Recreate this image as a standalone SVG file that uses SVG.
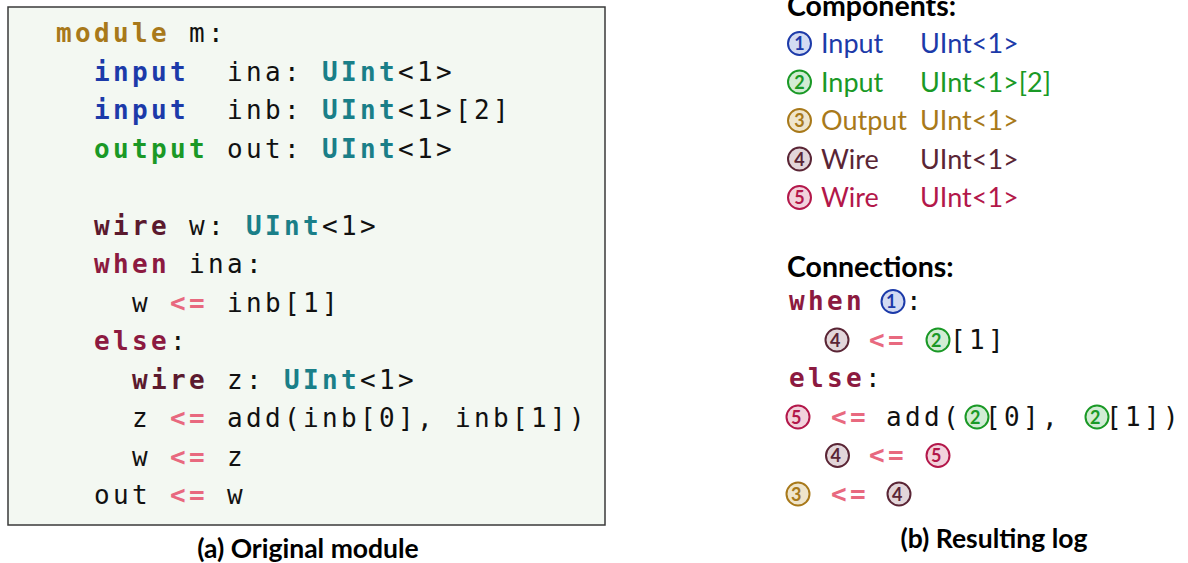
<svg xmlns="http://www.w3.org/2000/svg" width="1188" height="563" viewBox="0 0 1188 563">
  <style>
    .code { font-family: "DejaVu Sans Mono", "Liberation Mono", monospace; font-size: 26px; letter-spacing: 3.35px; fill: #111; white-space: pre; }
    .kmod { fill: #a8791a; font-weight: bold; }
    .kin { fill: #1c3aa9; font-weight: bold; }
    .kout { fill: #1a9926; font-weight: bold; }
    .ktype { fill: #1a7f88; font-weight: bold; }
    .kwire { fill: #5b1a2e; font-weight: bold; }
    .kctl { fill: #8c1a40; font-weight: bold; }
    .op { fill: #e8697f; font-weight: bold; }
    .sans { font-family: Lato, "Open Sans", "Liberation Sans", sans-serif; font-size: 27px; }
    .head { font-family: Lato, "Open Sans", "Liberation Sans", sans-serif; font-size: 28.5px; font-weight: bold; fill: #000; }
    .cap { font-family: Lato, "Open Sans", "Liberation Sans", sans-serif; font-size: 26.5px; font-weight: bold; fill: #000; text-anchor: middle; }
    .num { font-family: Lato, "Open Sans", "Liberation Sans", sans-serif; font-size: 18px; font-weight: bold; text-anchor: middle; }
    .c1 circle { fill: #d3dbf2; stroke: #1c3aa9; stroke-width: 2; } .c1 text { fill: #1c3aa9; }
    .c2 circle { fill: #d2ecd4; stroke: #1a9926; stroke-width: 2; } .c2 text { fill: #1a9926; }
    .c3 circle { fill: #efe5cc; stroke: #a8791a; stroke-width: 2; } .c3 text { fill: #a8791a; }
    .c4 circle { fill: #e2d6da; stroke: #5a2535; stroke-width: 2; } .c4 text { fill: #5a2535; }
    .c5 circle { fill: #f2d2dc; stroke: #b3174a; stroke-width: 2; } .c5 text { fill: #b3174a; }
  </style>
  <defs>
    <g id="m1" class="c1"><circle r="11.5"/><text class="num" y="6.5">1</text></g>
    <g id="m2" class="c2"><circle r="11.5"/><text class="num" y="6.5">2</text></g>
    <g id="m3" class="c3"><circle r="11.5"/><text class="num" y="6.5">3</text></g>
    <g id="m4" class="c4"><circle r="11.5"/><text class="num" y="6.5">4</text></g>
    <g id="m5" class="c5"><circle r="11.5"/><text class="num" y="6.5">5</text></g>
  </defs>

  <rect width="1188" height="563" fill="#fff"/>

  <!-- (a) source listing -->
  <g id="listing">
    <rect x="8" y="7" width="597" height="518" fill="#f3f8f2" stroke="#3a3a3a" stroke-width="1.5"/>
    <g class="code">
      <text xml:space="preserve" x="56" y="42"><tspan class="kmod">module</tspan> m:</text>
      <text xml:space="preserve" x="56" y="80.5">  <tspan class="kin">input</tspan>  ina: <tspan class="ktype">UInt</tspan>&lt;1&gt;</text>
      <text xml:space="preserve" x="56" y="119">  <tspan class="kin">input</tspan>  inb: <tspan class="ktype">UInt</tspan>&lt;1&gt;[2]</text>
      <text xml:space="preserve" x="56" y="157.5">  <tspan class="kout">output</tspan> out: <tspan class="ktype">UInt</tspan>&lt;1&gt;</text>
      <text xml:space="preserve" x="56" y="234.5">  <tspan class="kwire">wire</tspan> w: <tspan class="ktype">UInt</tspan>&lt;1&gt;</text>
      <text xml:space="preserve" x="56" y="273">  <tspan class="kctl">when</tspan> ina:</text>
      <text xml:space="preserve" x="56" y="311.5">    w <tspan class="op">&lt;=</tspan> inb[1]</text>
      <text xml:space="preserve" x="56" y="350">  <tspan class="kctl">else</tspan>:</text>
      <text xml:space="preserve" x="56" y="388.5">    <tspan class="kwire">wire</tspan> z: <tspan class="ktype">UInt</tspan>&lt;1&gt;</text>
      <text xml:space="preserve" x="56" y="427">    z <tspan class="op">&lt;=</tspan> add(inb[0], inb[1])</text>
      <text xml:space="preserve" x="56" y="465.5">    w <tspan class="op">&lt;=</tspan> z</text>
      <text xml:space="preserve" x="56" y="504">  out <tspan class="op">&lt;=</tspan> w</text>
    </g>
    <text class="cap" x="308" y="558">(a) Original module</text>
  </g>

  <!-- (b) component table -->
  <g id="components">
    <text class="head" x="787" y="16">Components:</text>
    <g id="comp1">
      <use href="#m1" x="799.5" y="43.5"/>
      <text class="sans" x="821" y="53" fill="#1c3aa9">Input</text>
      <text class="sans" x="920" y="53" fill="#1c3aa9">UInt&lt;1&gt;</text>
    </g>
    <g id="comp2">
      <use href="#m2" x="799.5" y="82"/>
      <text class="sans" x="821" y="91.5" fill="#1a9926">Input</text>
      <text class="sans" x="920" y="91.5" fill="#1a9926">UInt&lt;1&gt;[2]</text>
    </g>
    <g id="comp3">
      <use href="#m3" x="799.5" y="120.5"/>
      <text class="sans" x="821" y="130" fill="#a8791a">Output</text>
      <text class="sans" x="920" y="130" fill="#a8791a">UInt&lt;1&gt;</text>
    </g>
    <g id="comp4">
      <use href="#m4" x="799.5" y="159"/>
      <text class="sans" x="821" y="168.5" fill="#5a2535">Wire</text>
      <text class="sans" x="920" y="168.5" fill="#5a2535">UInt&lt;1&gt;</text>
    </g>
    <g id="comp5">
      <use href="#m5" x="799.5" y="197.5"/>
      <text class="sans" x="821" y="207" fill="#b3174a">Wire</text>
      <text class="sans" x="920" y="207" fill="#b3174a">UInt&lt;1&gt;</text>
    </g>
  </g>

  <!-- (b) connection log -->
  <g id="connections">
    <text class="head" x="787" y="277">Connections:</text>
    <g class="code">
      <text x="789" y="310" class="kctl">when</text>
      <use href="#m1" x="893" y="301.5"/>
      <text x="906" y="310">:</text>

      <use href="#m4" x="837" y="340"/>
      <text x="869" y="348.5" class="op">&lt;=</text>
      <use href="#m2" x="938" y="340"/>
      <text x="950" y="348.5">[1]</text>

      <text x="789" y="387"><tspan class="kctl">else</tspan>:</text>

      <use href="#m5" x="798" y="417"/>
      <text x="831" y="425.5" class="op">&lt;=</text>
      <text x="886" y="425.5">add(</text>
      <use href="#m2" x="977" y="417"/>
      <text x="985" y="425.5">[0],</text>
      <use href="#m2" x="1097" y="417"/>
      <text x="1106" y="425.5">[1])</text>

      <use href="#m4" x="837.5" y="455.5"/>
      <text x="869" y="464" class="op">&lt;=</text>
      <use href="#m5" x="938" y="455.5"/>

      <use href="#m3" x="798" y="494"/>
      <text x="831" y="502.5" class="op">&lt;=</text>
      <use href="#m4" x="899" y="494"/>
    </g>
    <text class="cap" x="994" y="548">(b) Resulting log</text>
  </g>
</svg>
